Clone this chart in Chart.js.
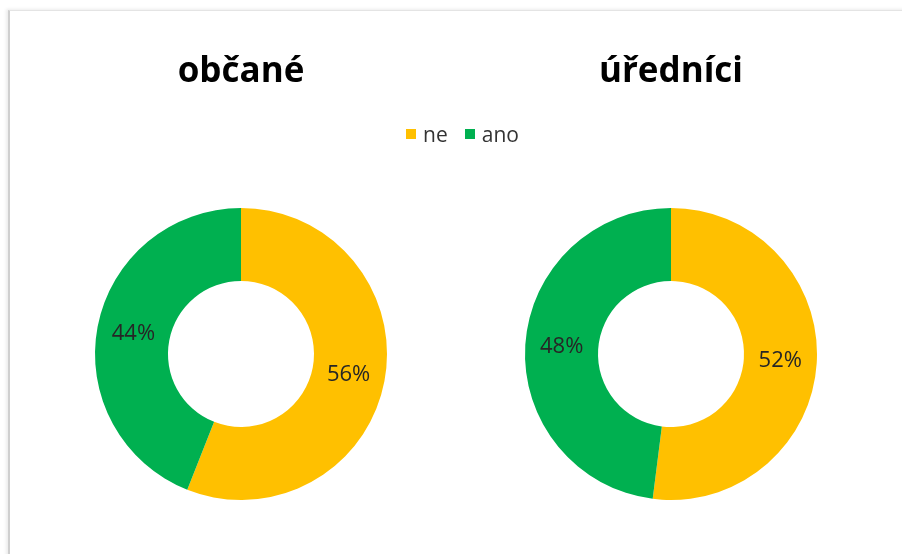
<!DOCTYPE html>
<html lang="cs">
<head>
<meta charset="utf-8">
<title>občané / úředníci</title>
<script src="https://cdn.jsdelivr.net/npm/chart.js@4/dist/chart.umd.min.js"></script>
<style>
  html, body { margin: 0; padding: 0; background: #fff; }
  body { width: 902px; height: 554px; position: relative; overflow: hidden; font-family: "Open Sans", sans-serif; }
  .frame {
    position: absolute; left: 8px; top: 10px; width: 1000px; height: 700px;
    border-left: 2px solid #cfcfcf; border-top: 1px solid #e4e4e4;
    box-shadow: -2px -1px 3px rgba(0,0,0,0.08);
  }
  .box { position: absolute; top: 0; width: 400px; height: 554px; }
  #legend {
    position: absolute; top: 120px; left: 0; width: 925px;
    display: flex; justify-content: center; gap: 17px;
    font-size: 21px; color: #333; line-height: 28px;
  }
  #legend span.item { display: flex; align-items: center; }
  #legend i { display: inline-block; width: 10px; height: 10px; margin-right: 7px; }
</style>
</head>
<body>
<div class="frame"></div>
<div class="box" style="left:41px"><canvas id="c1" width="400" height="554"></canvas></div>
<div class="box" style="left:471px"><canvas id="c2" width="400" height="554"></canvas></div>
<div id="legend"></div>
<script>
const categories = ['ne', 'ano'];
const colors = ['#FFC000', '#00B050'];
const titles = ['občané', 'úředníci'];
const obcane = [56, 44];
const urednici = [52, 48];

// percentage text in the middle of each ring segment
const segmentLabels = {
  id: 'segmentLabels',
  afterDatasetsDraw(chart) {
    const ctx = chart.ctx;
    const meta = chart.getDatasetMeta(0);
    ctx.save();
    ctx.font = '22px "Open Sans", sans-serif';
    ctx.fillStyle = '#262626';
    ctx.textAlign = 'center';
    ctx.textBaseline = 'middle';
    meta.data.forEach((arc, i) => {
      const p = arc.getCenterPoint();
      ctx.fillText(chart.data.datasets[0].data[i] + '%', p.x, p.y);
    });
    ctx.restore();
  }
};

function ring(id, title, values) {
  return new Chart(document.getElementById(id), {
    type: 'doughnut',
    data: {
      labels: categories,
      datasets: [{ data: values, backgroundColor: colors, borderWidth: 0 }]
    },
    options: {
      responsive: false,
      animation: false,
      cutout: '50%',
      layout: { padding: { top: 0, bottom: 54, left: 0, right: 0 } },
      plugins: {
        legend: { display: false },
        tooltip: { enabled: false },
        title: {
          display: true,
          text: title,
          color: '#000',
          font: { family: '"Open Sans", sans-serif', size: 35, weight: 'bold', lineHeight: 1.2 },
          padding: { top: 51, bottom: 115 }
        }
      }
    },
    plugins: [segmentLabels]
  });
}

ring('c1', titles[0], obcane);
ring('c2', titles[1], urednici);

// shared legend
const legend = document.getElementById('legend');
categories.forEach((name, i) => {
  const item = document.createElement('span');
  item.className = 'item';
  const sw = document.createElement('i');
  sw.style.background = colors[i];
  item.appendChild(sw);
  item.appendChild(document.createTextNode(name));
  legend.appendChild(item);
});
</script>
</body>
</html>
